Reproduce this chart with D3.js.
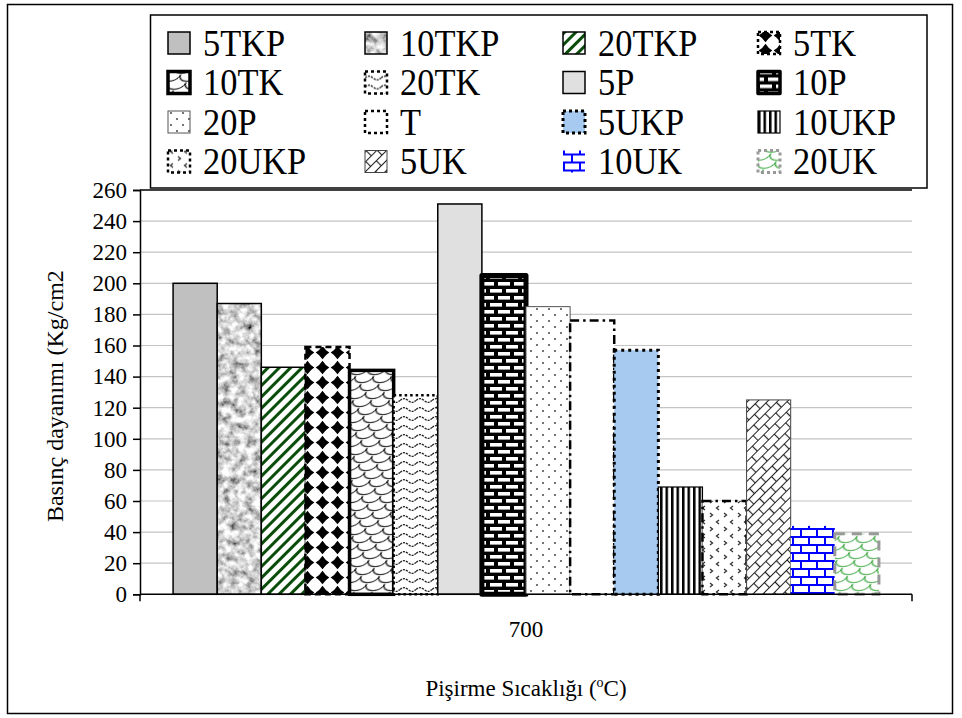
<!DOCTYPE html>
<html><head><meta charset="utf-8">
<script src="https://cdn.jsdelivr.net/npm/d3@7"></script>
<style>
html,body{margin:0;padding:0;background:#fff;}
svg{display:block;}
</style></head>
<body>
<svg id="chart" width="962" height="718"></svg>
<script>
// ---- data ----
const categories = ["700"];
const seriesNames = ["5TKP","10TKP","20TKP","5TK","10TK","20TK","5P","10P","20P","T","5UKP","10UKP","20UKP","5UK","10UK","20UK"];
const values700 = [200,187,146,159,144,128,251,205,185,176,157,69,60,125,44,39];
const yTicks = [0,20,40,60,80,100,120,140,160,180,200,220,240,260];
const yTitle = "Basınç dayanımı (Kg/cm2)";
const xTitle = "Pişirme Sıcaklığı (";

const FONT = "'Liberation Serif', 'Times New Roman', Tinos, 'DejaVu Serif', serif";

// ---- styles (per series) ----
const styles = {
  "5TKP":  {fill:"#C0C0C0", stroke:"#000", sw:1.5},
  "10TKP": {fill:"#aaa", filter:"url(#granite)", stroke:"#000", sw:1.5},
  "20TKP": {fill:"url(#p-stripe)", stroke:"#000", sw:1.5},
  "5TK":   {fill:"url(#p-diamond)", stroke:"#000", sw:2.5, dash:"6,4"},
  "10TK":  {fill:"url(#p-shingle)", stroke:"#000", sw:3.5},
  "20TK":  {fill:"url(#p-wave)", stroke:"#000", sw:2.5, dash:"2.5,3"},
  "5P":    {fill:"#E0E0E0", stroke:"#000", sw:1.5},
  "10P":   {fill:"url(#p-brick)", stroke:"#000", sw:5, join:"round"},
  "20P":   {fill:"url(#p-dots)", stroke:"#555", sw:1},
  "T":     {fill:"#fff", stroke:"#000", sw:2.5, dash:"9,4,2.5,4"},
  "5UKP":  {fill:"#A6CAF0", stroke:"#000", sw:3, dash:"3,4"},
  "10UKP": {fill:"url(#p-vstripe)", stroke:"#000", sw:1.2},
  "20UKP": {fill:"url(#p-confetti)", stroke:"#000", sw:2.5, dash:"9,4,2.5,4"},
  "5UK":   {fill:"url(#p-dbrick)", stroke:"#444", sw:1},
  "10UK":  {fill:"url(#p-bluebrick)", stroke:"none", sw:0},
  "20UK":  {fill:"url(#p-greenscale)", stroke:"#999", sw:3, dash:"10,7"}
};

const svg = d3.select("#chart").attr("font-family", FONT).style("font-family", FONT);
const defs = svg.append("defs");

// granite filter
const gf = defs.append("filter").attr("id","granite").attr("x",0).attr("y",0).attr("width",1).attr("height",1)
  .attr("filterUnits","objectBoundingBox").attr("primitiveUnits","userSpaceOnUse");
gf.append("feTurbulence").attr("type","fractalNoise").attr("baseFrequency","0.13").attr("numOctaves",3).attr("seed",7).attr("result","n");
gf.append("feColorMatrix").attr("in","n").attr("type","matrix")
  .attr("values","1.7 0 0 0 -0.2  1.7 0 0 0 -0.2  1.7 0 0 0 -0.2  0 0 0 0 1").attr("result","g");
gf.append("feComposite").attr("in","g").attr("in2","SourceGraphic").attr("operator","in");

function pat(id,w,h,tr){
  const p = defs.append("pattern").attr("id",id).attr("patternUnits","userSpaceOnUse").attr("width",w).attr("height",h);
  if(tr) p.attr("patternTransform",tr);
  return p;
}
// 20TKP stripes
let p = pat("p-stripe",8,8,"rotate(45)");
p.append("rect").attr("width",8).attr("height",8).attr("fill","#fff");
p.append("rect").attr("width",3).attr("height",8).attr("fill","#0a4d0a");
// 5TK diamonds
p = pat("p-diamond",15,15);
p.append("rect").attr("width",15).attr("height",15).attr("fill","#fff");
{const c=7.5,r=6.8,k=2.6;
p.append("path").attr("fill","#000").attr("d",`M${c},${c-r} Q${c+k},${c-k} ${c+r},${c} Q${c+k},${c+k} ${c},${c+r} Q${c-k},${c+k} ${c-r},${c} Q${c-k},${c-k} ${c},${c-r}Z`);}
// 10TK shingle
p = pat("p-shingle",18,16,"skewX(-25)");
p.append("rect").attr("width",18).attr("height",16).attr("fill","#fff");
p.append("path").attr("fill","none").attr("stroke","#111").attr("stroke-width",1)
  .attr("d","M0,0 C0,9 18,9 18,0 M-9,8 C-9,17 9,17 9,8 M9,8 C9,17 27,17 27,8");
// 20TK waves
p = pat("p-wave",16,9);
p.append("rect").attr("width",16).attr("height",9).attr("fill","#fff");
p.append("path").attr("fill","none").attr("stroke","#222").attr("stroke-width",1.3).attr("stroke-dasharray","2.2,1")
  .attr("d","M0,4.5 Q4,0.8 8,4.5 T16,4.5");
// 10P brick
p = pat("p-brick",16,14);
p.append("rect").attr("width",16).attr("height",14).attr("fill","#000");
[[2,2],[-6,9],[10,9]].forEach(([x,y])=>p.append("rect").attr("x",x).attr("y",y).attr("width",12).attr("height",3.6).attr("fill","#fff"));
// 20P dots
p = pat("p-dots",12,12);
p.append("rect").attr("width",12).attr("height",12).attr("fill","#fff");
[[3,3],[9,9]].forEach(([x,y])=>p.append("circle").attr("cx",x).attr("cy",y).attr("r",0.9).attr("fill","#333"));
// 10UKP vertical stripes
p = pat("p-vstripe",5.5,10);
p.append("rect").attr("width",5.5).attr("height",10).attr("fill","#fff");
p.append("rect").attr("width",2.5).attr("height",10).attr("fill","#000");
// 20UKP confetti
p = pat("p-confetti",14,14);
p.append("rect").attr("width",14).attr("height",14).attr("fill","#fff");
p.append("path").attr("fill","none").attr("stroke","#333").attr("stroke-width",1.3)
  .attr("d","M5,2 L2.5,4 L5,6 M10,9 L12.5,11 L10,13");
// 5UK diagonal brick
p = pat("p-dbrick",16,14,"rotate(-45)");
p.append("rect").attr("width",16).attr("height",14).attr("fill","#fff");
p.append("path").attr("fill","none").attr("stroke","#222").attr("stroke-width",1.2)
  .attr("d","M0,0.5 H16 M0,7.5 H16 M0.5,0.5 V7.5 M8.5,7.5 V14");
// 10UK blue brick
p = pat("p-bluebrick",16,16);
p.append("rect").attr("width",16).attr("height",16).attr("fill","#fff");
p.append("path").attr("fill","none").attr("stroke","#0000ff").attr("stroke-width",2)
  .attr("d","M0,1 H16 M0,9 H16 M1,1 V9 M9,9 V17");
// 20UK green scales
p = pat("p-greenscale",18,16,"skewX(-25)");
p.append("rect").attr("width",18).attr("height",16).attr("fill","#fff");
p.append("path").attr("fill","none").attr("stroke","#4caf50").attr("stroke-width",1.2)
  .attr("d","M0,0 C0,9 18,9 18,0 M-9,8 C-9,17 9,17 9,8 M9,8 C9,17 27,17 27,8");

// outer border
svg.append("rect").attr("x",7.5).attr("y",4.5).attr("width",945).attr("height",709)
  .attr("fill","#fff").attr("stroke","#000").attr("stroke-width",1.5);

// ---- scales ----
const plotL = 140, plotR = 912, plotT = 190, plotB = 594.3;
const y = d3.scaleLinear().domain([0,260]).range([plotB, plotT]);
const x0 = d3.scaleBand().domain(categories).range([plotL, plotR]);
const x1 = d3.scaleBand().domain(seriesNames).range([0, x0.bandwidth()]).paddingInner(0).paddingOuter(0.75);

// gridlines
svg.append("g").selectAll("line").data(yTicks.filter(d=>d>0)).join("line")
  .attr("x1",plotL).attr("x2",plotR).attr("y1",d=>y(d)).attr("y2",d=>y(d))
  .attr("stroke",d=>d===260?"#000":"#c4c4c4").attr("stroke-width",d=>d===260?1.5:1.2);

// bars
const data = categories.flatMap((c,ci)=>seriesNames.map((s,si)=>({cat:c,name:s,value:values700[si]})));
const bars = svg.append("g").selectAll("g").data(data).join("g");
bars.append("rect")
  .attr("x",d=>x0(d.cat)+x1(d.name)).attr("width",x1.bandwidth())
  .attr("y",d=>y(d.value)).attr("height",d=>y(0)-y(d.value))
  .attr("fill",d=>styles[d.name].fill)
  .attr("filter",d=>styles[d.name].filter||null)
  .attr("stroke","none");
bars.append("rect")
  .attr("x",d=>x0(d.cat)+x1(d.name)).attr("width",x1.bandwidth())
  .attr("y",d=>y(d.value)).attr("height",d=>y(0)-y(d.value))
  .attr("fill","none")
  .attr("stroke",d=>styles[d.name].stroke)
  .attr("stroke-width",d=>styles[d.name].sw)
  .attr("stroke-dasharray",d=>styles[d.name].dash||null)
  .attr("stroke-linejoin",d=>styles[d.name].join||"miter");

// y axis
const yAxis = svg.append("g").attr("transform",`translate(${plotL},0)`)
  .call(d3.axisLeft(y).tickValues(yTicks).tickSize(7).tickPadding(6));
yAxis.attr("font-family",FONT).attr("font-size",23);
yAxis.select(".domain").attr("stroke","#000").attr("stroke-width",1.5);
yAxis.selectAll(".tick line").attr("stroke","#000").attr("stroke-width",1.5);
yAxis.selectAll(".tick text").attr("font-family",FONT).style("font-family",FONT).style("font-size","23px").attr("fill","#000");

// x axis
const xAxis = svg.append("g").attr("transform",`translate(0,${plotB})`)
  .call(d3.axisBottom(x0).tickSize(0).tickPadding(26));
xAxis.attr("font-family",FONT).attr("font-size",23);
xAxis.select(".domain").attr("stroke","#000").attr("stroke-width",1.5).attr("d",`M${plotL},0H${plotR}`);
xAxis.selectAll(".tick text").attr("font-family",FONT).style("font-family",FONT).style("font-size","23px").attr("fill","#000");
xAxis.selectAll("line.edge").data([plotL,plotR]).join("line").attr("class","edge")
  .attr("x1",d=>d).attr("x2",d=>d).attr("y1",0).attr("y2",7).attr("stroke","#000").attr("stroke-width",1.5);

// axis titles
const xt = svg.append("text").attr("x",(plotL+plotR)/2).attr("y",696).attr("text-anchor","middle")
  .attr("font-family",FONT).style("font-family",FONT).style("font-size","23px");
xt.append("tspan").text(xTitle);
xt.append("tspan").attr("dy",-9).style("font-size","14px").text("o");
xt.append("tspan").attr("dy",9).text("C)");

defs.append("clipPath").attr("id","ytclip").append("rect").attr("x",0).attr("y",271).attr("width",140).attr("height",400);
svg.append("g").attr("clip-path","url(#ytclip)")
  .append("text").attr("transform",`translate(63,${(plotT+plotB)/2}) rotate(-90)`)
  .attr("text-anchor","middle").attr("font-family",FONT).style("font-family",FONT).style("font-size","24px").text(yTitle);

// legend
svg.append("rect").attr("x",150.5).attr("y",15).attr("width",776.5).attr("height",173)
  .attr("fill","#fff").attr("stroke","#000").attr("stroke-width",1.5);
const colX = [168,365,563,758], rowY = [43,82.5,122,161.5];
const lg = svg.append("g").selectAll("g").data(seriesNames).join("g")
  .attr("transform",(d,i)=>`translate(${colX[i%4]},${rowY[Math.floor(i/4)]})`);
lg.append("rect").attr("x",0).attr("y",-11).attr("width",22).attr("height",22)
  .attr("fill",d=>styles[d].fill).attr("filter",d=>styles[d].filter||null);
lg.append("rect").attr("x",0).attr("y",-11).attr("width",22).attr("height",22).attr("fill","none")
  .attr("stroke",d=>styles[d].stroke==="none"?"none":styles[d].stroke)
  .attr("stroke-width",d=>Math.min(styles[d].sw,3.5))
  .attr("stroke-dasharray",d=>styles[d].dash?"3,3":null)
  .attr("stroke-linejoin",d=>styles[d].join||"miter");
lg.append("text").attr("transform","translate(35,12.5) scale(0.93,1)").attr("font-family",FONT)
  .style("font-family",FONT).style("font-size","37px").text(d=>d);
</script>
</body></html>
